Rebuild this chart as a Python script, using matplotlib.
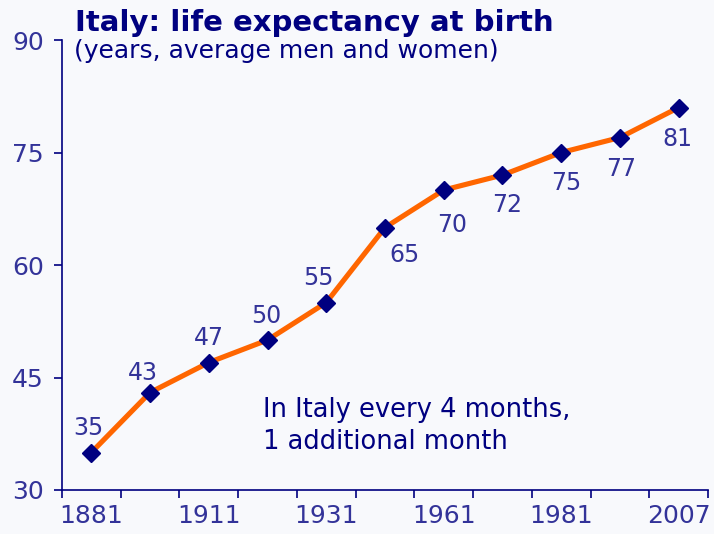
import numpy as np
import matplotlib.pyplot as plt

# === データ ===
years = ['1881', '1901', '1911', '1921', '1931', '1951', '1961', '1971', '1981', '1991', '2007']
life_exp = [35, 43, 47, 50, 55, 65, 70, 72, 75, 77, 81]
y_ticks = [30, 45, 60, 75, 90]

# ラベルのずらし量 (pixels)
label_offsets = [(-3, 25), (-7, 20), (0, 25), (-1, 24), (-8, 25),
                 (20, -27), (8, -35), (5, -30), (5, -30), (1, -31), (-1, -31)]

bg = '#f8f9fc'
navy = '#000080'
label_col = '#333399'

fig = plt.figure(figsize=(7.14, 5.34), dpi=100, facecolor=bg)
ax = fig.add_axes([0.0868, 0.0824, 0.9048, 0.8426], facecolor=bg)

x = np.arange(len(years))
ax.plot(x, life_exp, color='#ff6600', lw=3.7, zorder=2, solid_capstyle='round')
ax.plot(x, life_exp, ls='none', marker='D', ms=9, color=navy, zorder=3)

for xi, v, off in zip(x, life_exp, label_offsets):
    ax.annotate(str(v), (xi, v), xytext=off, textcoords='offset pixels',
                ha='center', va='center', fontsize=17, color=label_col)

ax.set_xlim(-0.5, len(years) - 0.5)
ax.set_ylim(30, 90)
ax.set_yticks(y_ticks)
ax.set_xticks(x[::2])
ax.set_xticklabels(years[::2])
ax.set_xticks(np.arange(-0.5, len(years)), minor=True)
ax.tick_params(axis='x', which='major', length=0, pad=10, labelsize=18, labelcolor=label_col)
ax.tick_params(axis='x', which='minor', length=6, width=1.2, color=navy, direction='out')
ax.tick_params(axis='y', length=6, width=1.2, color=navy, labelsize=18, labelcolor=label_col, pad=7)

for s in ['top', 'right']:
    ax.spines[s].set_visible(False)
for s in ['left', 'bottom']:
    ax.spines[s].set_color(navy)
    ax.spines[s].set_linewidth(1.2)

fig.text(0.105, 0.956, 'Italy: life expectancy at birth', fontsize=21, fontweight='bold',
         color=navy, ha='left', va='center')
fig.text(0.103, 0.905, '(years, average men and women)', fontsize=18,
         color=navy, ha='left', va='center')
ax.text(2.92, 38.5, 'In Italy every 4 months,\n1 additional month', fontsize=18.5,
        color=navy, ha='left', va='center', linespacing=1.28)

plt.savefig('out.png', dpi=100, facecolor=bg)
